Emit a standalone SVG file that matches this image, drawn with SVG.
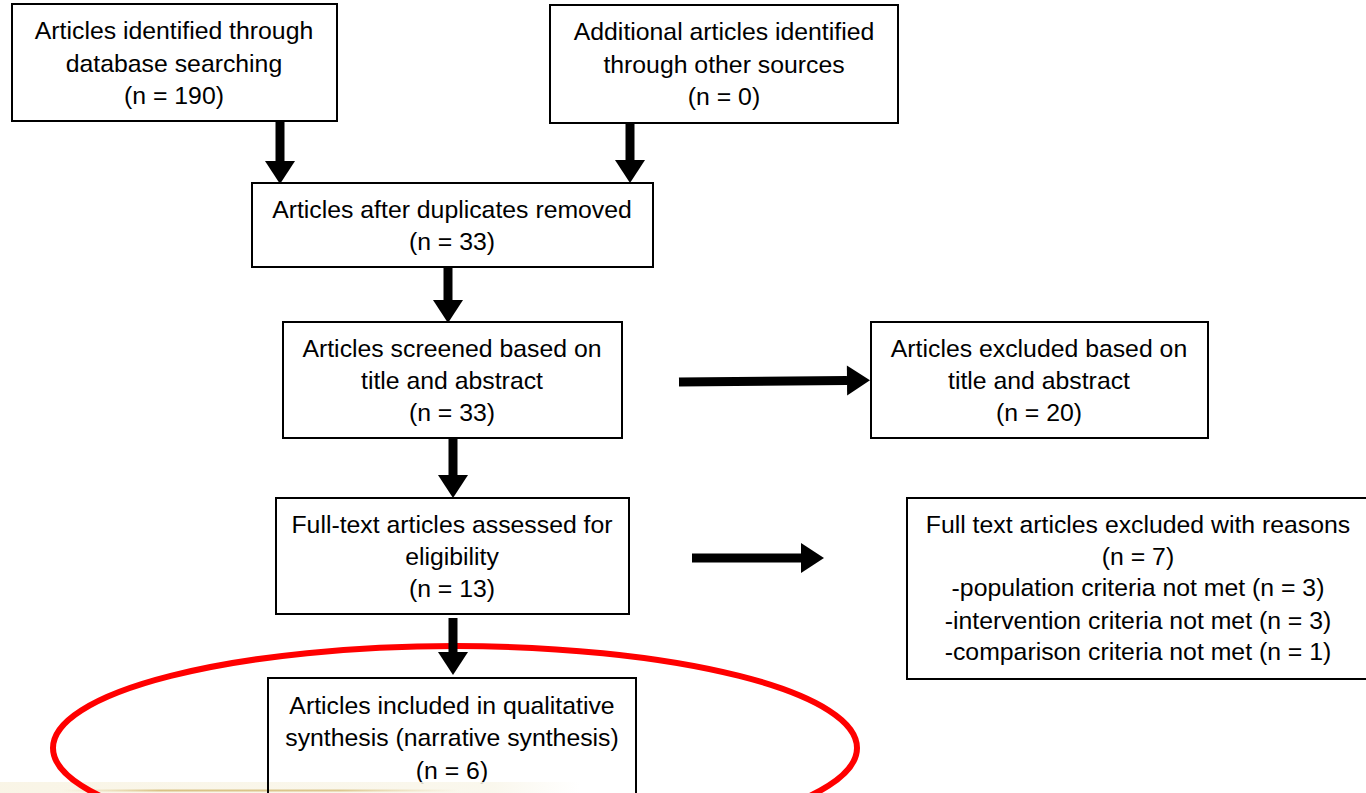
<svg xmlns="http://www.w3.org/2000/svg" width="1366" height="793" viewBox="0 0 1366 793">
<defs>
<style>
.box{fill:#fff;stroke:#000;stroke-width:2}
.t{font-family:"Liberation Sans",Arial,sans-serif;font-size:24.8px;fill:#000;text-anchor:middle}
.arr{stroke:#000;stroke-width:9;fill:none;marker-end:url(#ah)}
</style>
<marker id="ah" markerUnits="userSpaceOnUse" markerWidth="24" markerHeight="30" refX="0" refY="15" orient="auto" overflow="visible">
<path d="M0,0 L23,15 L0,30 Z" fill="#000"/>
</marker>
<linearGradient id="band" x1="0" y1="0" x2="1" y2="0">
<stop offset="0" stop-color="#f8f3e2"/>
<stop offset="0.85" stop-color="#f9f6ea"/>
<stop offset="1" stop-color="#ffffff"/>
</linearGradient>
<linearGradient id="tan" x1="0" y1="0" x2="1" y2="0">
<stop offset="0" stop-color="#e6d6a6" stop-opacity="0"/>
<stop offset="0.25" stop-color="#d9c285"/>
<stop offset="0.7" stop-color="#dcc78f"/>
<stop offset="1" stop-color="#e6d6a6" stop-opacity="0"/>
</linearGradient>
</defs>
<rect width="1366" height="793" fill="#fff"/>

<g id="n1"><rect class="box" x="12" y="4" width="325" height="117"/>
<text class="t" x="174" y="39">Articles identified through</text>
<text class="t" x="174" y="72">database searching</text>
<text class="t" x="174" y="104">(n = 190)</text></g>

<g id="n2"><rect class="box" x="550" y="5" width="348" height="118"/>
<text class="t" x="724" y="40">Additional articles identified</text>
<text class="t" x="724" y="73">through other sources</text>
<text class="t" x="724" y="105">(n = 0)</text></g>

<g id="n3"><rect class="box" x="252" y="183" width="401" height="84"/>
<text class="t" x="452" y="218">Articles after duplicates removed</text>
<text class="t" x="452" y="250">(n = 33)</text></g>

<g id="n4"><rect class="box" x="283" y="322" width="339" height="116"/>
<text class="t" x="452" y="357">Articles screened based on</text>
<text class="t" x="452" y="389">title and abstract</text>
<text class="t" x="452" y="421">(n = 33)</text></g>

<g id="n5"><rect class="box" x="276" y="498" width="353" height="116"/>
<text class="t" x="452" y="533">Full-text articles assessed for</text>
<text class="t" x="452" y="565">eligibility</text>
<text class="t" x="452" y="597">(n = 13)</text></g>

<g id="n6"><rect class="box" x="268" y="678" width="368" height="130"/>
<text class="t" x="452" y="714">Articles included in qualitative</text>
<text class="t" x="452" y="746">synthesis (narrative synthesis)</text>
<text class="t" x="452" y="779">(n = 6)</text></g>

<g id="n7"><rect class="box" x="871" y="322" width="337" height="116"/>
<text class="t" x="1039" y="357">Articles excluded based on</text>
<text class="t" x="1039" y="389">title and abstract</text>
<text class="t" x="1039" y="421">(n = 20)</text></g>

<g id="n8"><rect class="box" x="907" y="498" width="470" height="181"/>
<text class="t" x="1138" y="533">Full text articles excluded with reasons</text>
<text class="t" x="1138" y="565">(n = 7)</text>
<text class="t" x="1138" y="596">-population criteria not met (n = 3)</text>
<text class="t" x="1138" y="629">-intervention criteria not met (n = 3)</text>
<text class="t" x="1138" y="660">-comparison criteria not met (n = 1)</text></g>

<g id="bottom-band">
<rect x="0" y="782" width="580" height="11" fill="url(#band)" opacity="0.85"/>
<rect x="60" y="789.5" width="400" height="2" fill="url(#tan)"/>
<line x1="268" y1="782" x2="268" y2="793" stroke="#000" stroke-width="2"/>
</g>

<ellipse id="highlight" cx="455" cy="748" rx="402" ry="102" fill="none" stroke="#ff0000" stroke-width="6"/>

<g id="connectors">
<line class="arr" x1="280" y1="122" x2="280" y2="161"/>
<line class="arr" x1="630" y1="123" x2="630" y2="160"/>
<line class="arr" x1="448" y1="267" x2="448" y2="300"/>
<line class="arr" x1="453" y1="438" x2="453" y2="475"/>
<line class="arr" x1="453" y1="618" x2="453" y2="652"/>
<line class="arr" x1="679" y1="382" x2="847" y2="380.5"/>
<line class="arr" x1="692" y1="558" x2="801" y2="558"/>
</g>
</svg>
